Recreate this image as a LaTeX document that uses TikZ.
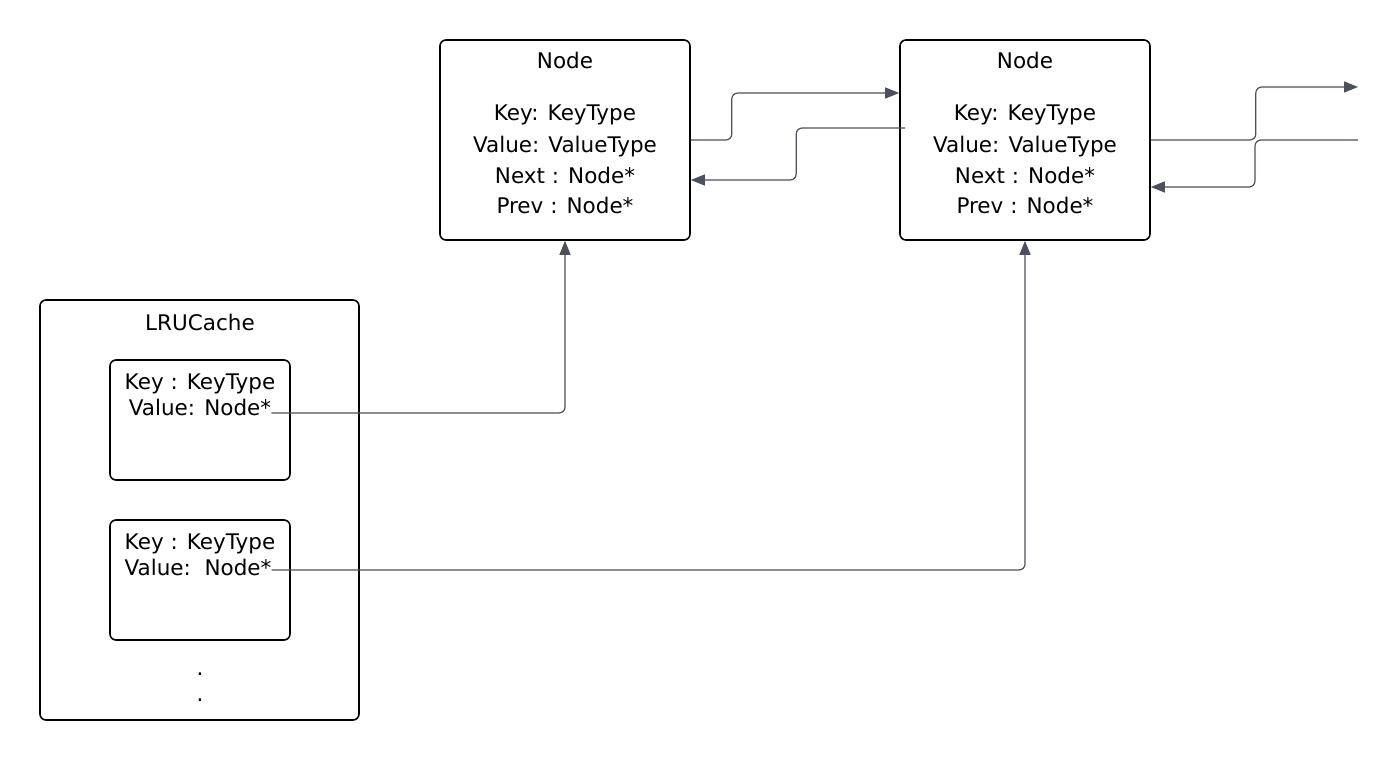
\documentclass[tikz,border=0pt]{standalone}
\usepackage{fontspec}
\setmainfont{DejaVu Sans}
\usetikzlibrary{arrows.meta}
\definecolor{linkgray}{HTML}{4B505C}

\begin{document}
\begin{tikzpicture}
[x=1pt,y=-1pt,
box/.style={draw,line width=1.6pt,rounded corners=6pt,inner sep=0pt},
txt/.style={inner sep=0pt,anchor=base,font=\fontsize{21.5}{24}\selectfont},
link/.style={draw=linkgray,line width=1.2pt,rounded corners=6pt,
  -{Triangle[length=14pt,width=11pt,fill=linkgray]}}]
\useasboundingbox (0,0) rectangle (1399,760);
% list nodes
\node[box,minimum width=250pt,minimum height=200pt] (n1) at (565,140) {};
\node[box,minimum width=250pt,minimum height=200pt] (n2) at (1025,140) {};
\foreach \n/\x in {n1/565,n2/1025}{
  \node[txt] (\n-title) at (\x,69) {Node};
  \node[txt] (\n-key) at (\x,120) {Key: KeyType};
  \node[txt] (\n-val) at (\x,152) {Value: ValueType};
  \node[txt] (\n-next) at (\x,183) {Next : Node*};
  \node[txt] (\n-prev) at (\x,213) {Prev : Node*};
}
% the cache and its map entries
\node[box,minimum width=319pt,minimum height=420pt] (cache) at (199.5,510) {};
\node[txt] (cache-title) at (200,330) {LRUCache};
\node[box,minimum width=180pt,minimum height=120pt] (e1) at (200,420) {};
\node[box,minimum width=180pt,minimum height=120pt] (e2) at (200,580) {};
\node[txt] (k1) at (200,389) {Key : KeyType};
\node[txt] (v1) at (200,415) {Value: Node*};
\node[txt] (k2) at (200,549) {Key : KeyType};
\node[txt] (v2) at (198,575) {Value:\ \ Node*};
\node[txt] (dot1) at (200,675) {.};
\node[txt] (dot2) at (200,701) {.};
% pointers
\coordinate (out) at (1358,87);
\coordinate (in) at (1358,140);
\draw[link] ([yshift=2pt]v1.base east) -| (n1.south);
\draw[link] ([yshift=5pt]v2.base east) -| (n2.south);
\draw[link] (n1.east) -- ++(41,0) |- ([yshift=47pt]n2.west);
\draw[link] ([shift={(6pt,12pt)}]n2.west) -- ++(-109,0) |- ([yshift=-40pt]n1.east);
\draw[link] (n2.east) -- ++(105,0) |- (out);
\draw[link] (in) -- ++(-103,0) |- ([yshift=-47pt]n2.east);
\end{tikzpicture}
\end{document}
